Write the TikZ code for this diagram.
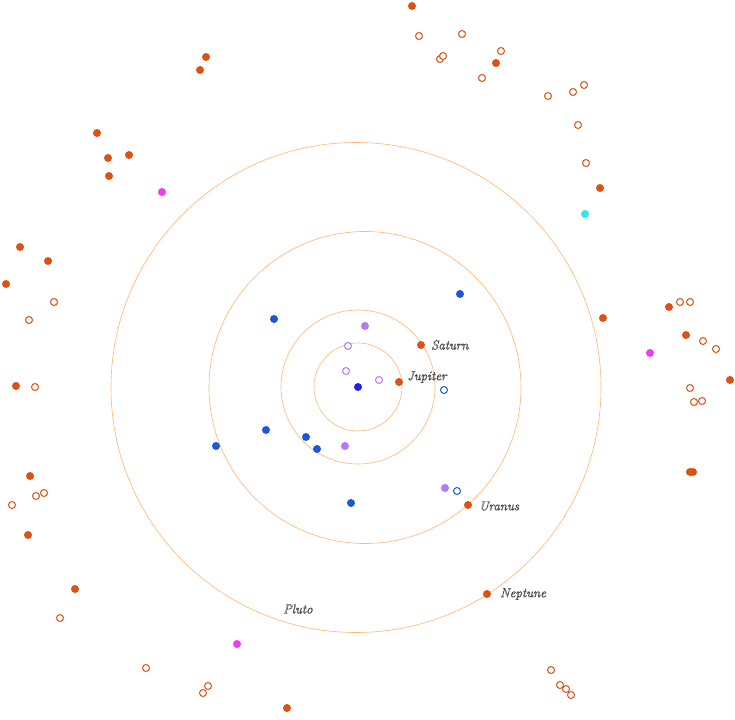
\documentclass[tikz,border=0pt]{standalone}
\newcommand{\outl}[1]{\special{pdf:code q 1 Tr 0.35 w 0.25 g 0.25 G}#1\special{pdf:code 0 Tr Q}}
\begin{document}
\begin{tikzpicture}[x=1pt,y=-1pt,
 orb/.style={draw=orbc, line width=0.6pt},
 fo/.style={circle,fill=or,inner sep=0,minimum size=8pt},
 ho/.style={circle,draw=or,fill=white,line width=1pt,inner sep=0,minimum size=7pt},
 fm/.style={circle,fill=mag,inner sep=0,minimum size=8pt},
 fc/.style={circle,fill=cy,inner sep=0,minimum size=8pt},
 fb/.style={circle,fill=bl,inner sep=0,minimum size=8pt},
 hb/.style={circle,draw=bl,fill=white,line width=1pt,inner sep=0,minimum size=7pt},
 fp/.style={circle,fill=pu,inner sep=0,minimum size=8pt},
 hp/.style={circle,draw=pu,fill=white,line width=1pt,inner sep=0,minimum size=7pt},
 lab/.style={font=\itshape\fontsize{13}{13}\selectfont,anchor=west,inner sep=0}]
\definecolor{or}{HTML}{DC5216}
\definecolor{orbc}{HTML}{FFB46E}
\definecolor{mag}{HTML}{F03CF0}
\definecolor{cy}{HTML}{30E8E8}
\definecolor{bl}{HTML}{1A58D8}
\definecolor{pu}{HTML}{B478F4}
\definecolor{sun}{HTML}{2020E8}
\useasboundingbox (0,0) rectangle (735,719);
\coordinate (c) at (358,387);
\coordinate (c3) at (365,387.5);
\draw[orb] (c) circle (44);
\draw[orb] (c) circle (77);
\draw[orb] (c3) circle (156);
\draw[orb] (356,387.5) circle (245);
\foreach \p [count=\i] in {(412,6),(206,57),(200,70),(97,133),(108,158),(129,155),(109,176),(20,247),(48,261),(6,284),(16,386),(30,476),(28,535),(75,589),(287,708),(496,63),(600,188),(603,318),(669,307),(686,335),(730,380),(690,472),(693,472)}
  \node[fo] (o\i) at \p {};
\foreach \p [count=\i] in {(419,36),(462,34),(440,59),(443,56),(501,51),(482,78),(548,96),(573,92),(584,85),(578,125),(586,163),(680,302),(690,302),(703,341),(716,349),(690,388),(694,402),(702,401),(54,302),(29,320),(35,387),(12,505),(36,496),(44,493),(60,618),(146,668),(208,686),(203,693),(551,670),(560,685),(566,689),(571,695)}
  \node[ho] (h\i) at \p {};
\foreach \p [count=\i] in {(162,192),(650,353),(237,644)} \node[fm] (m\i) at \p {};
\node[fc] (cy1) at (585,214) {};
\foreach \p [count=\i] in {(460,294),(274,319),(266,430),(216,446),(306,437),(317,449),(351,503)} \node[fb] (b\i) at \p {};
\node[hb] (hb1) at (444,390) {};
\node[hb] (hb2) at (457,491) {};
\foreach \p [count=\i] in {(365,326),(345,446),(445,488)} \node[fp] (p\i) at \p {};
\foreach \p [count=\i] in {(348,346),(346,371),(379,380)} \node[hp] (q\i) at \p {};
\node[circle,fill=sun,inner sep=0,minimum size=8pt] (sun) at (c) {};
\node[fo] (sat) at (421,345) {};
\node[fo] (jup) at (399,382) {};
\node[fo] (ura) at (468,505) {};
\node[fo] (nep) at (487,594) {};
\node[lab] (lsat) at (431,345) {\outl{Saturn}};
\node[lab] (ljup) at (407,377) {\outl{Jupiter}};
\node[lab] (lura) at (479,506) {\outl{Uranus}};
\node[lab] (lnep) at (500,594) {\outl{Neptune}};
\node[lab] (lplu) at (283,609) {\outl{Pluto}};
\end{tikzpicture}
\end{document}
